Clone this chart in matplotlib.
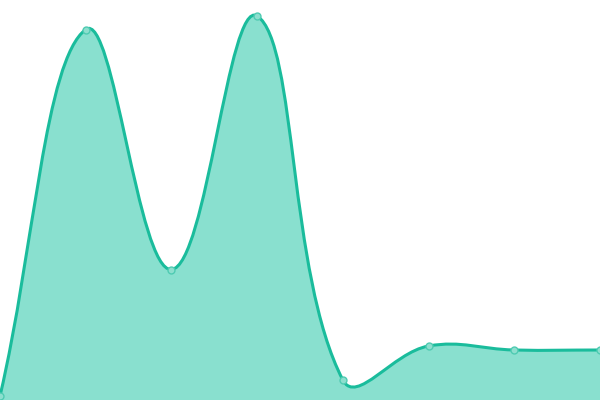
import numpy as np
import matplotlib
matplotlib.use("Agg")
import matplotlib.pyplot as plt
from matplotlib.path import Path
from matplotlib.patches import PathPatch

# values (y axis 0..400)
labels = ["A", "B", "C", "D", "E", "F", "G", "H"]
values = [4, 370.5, 130.5, 384, 20, 54, 50, 50]

line_color = "#1abc9c"
fill_color = "#89e0cf"
tension = 0.4

fig = plt.figure(figsize=(6, 4), dpi=100)
ax = fig.add_axes([0, 0, 1, 1])
ax.set_xlim(0, len(values) - 1)
ax.set_ylim(0, 400)
ax.axis("off")

# work in display (pixel) space so the spline looks like a chart.js one
xs = np.arange(len(values))
pts = ax.transData.transform(np.column_stack([xs, values]))

def spline_controls(p):
    n = len(p)
    c_prev = p.copy()
    c_next = p.copy()
    for i in range(n):
        prev = p[max(i - 1, 0)]
        cur = p[i]
        nxt = p[min(i + 1, n - 1)]
        d01 = np.hypot(*(cur - prev))
        d12 = np.hypot(*(nxt - cur))
        tot = d01 + d12
        s01 = d01 / tot if tot else 0
        s12 = d12 / tot if tot else 0
        c_prev[i] = cur - tension * s01 * (nxt - prev)
        c_next[i] = cur + tension * s12 * (nxt - prev)
    return c_prev, c_next

cp, cn = spline_controls(pts)

verts = [pts[0]]
codes = [Path.MOVETO]
for i in range(len(pts) - 1):
    verts += [cn[i], cp[i + 1], pts[i + 1]]
    codes += [Path.CURVE4] * 3

inv = ax.transData.inverted()
curve = inv.transform(np.array(verts))

# filled area
base = ax.transData.transform([[xs[-1], 0], [xs[0], 0]])
fill_verts = np.vstack([curve, inv.transform(base), curve[:1]])
fill_codes = codes + [Path.LINETO, Path.LINETO, Path.CLOSEPOLY]
ax.add_patch(PathPatch(Path(fill_verts, fill_codes), facecolor=fill_color,
                       edgecolor="none"))
ax.add_patch(PathPatch(Path(curve, codes), facecolor="none",
                       edgecolor=line_color, lw=2.2, capstyle="round"))

ax.plot(xs, values, "o", ms=5, mfc="#8ddfce", mec="#4fcbb2", mew=1,
        clip_on=False, zorder=5)

fig.savefig("out.png", dpi=100)
